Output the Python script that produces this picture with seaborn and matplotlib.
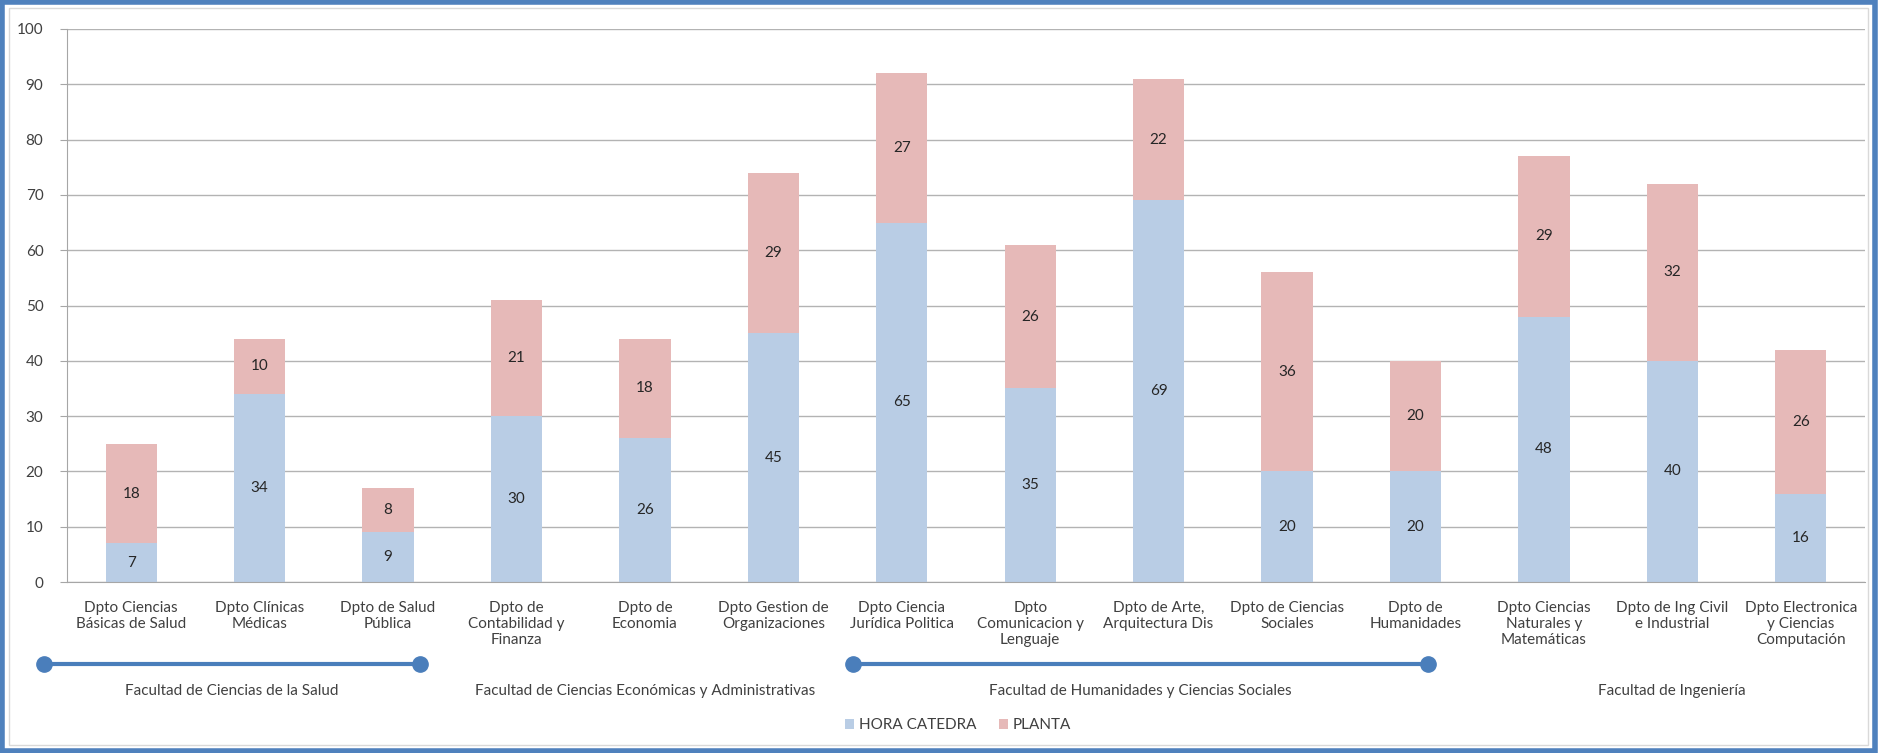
import matplotlib
matplotlib.use("Agg")
import matplotlib.pyplot as plt
from matplotlib.patches import Rectangle
import seaborn as sns
import pandas as pd

departamentos = [
    "Dpto Ciencias\nBásicas de Salud", "Dpto Clínicas\nMédicas", "Dpto de Salud\nPública",
    "Dpto de\nContabilidad y\nFinanza", "Dpto de\nEconomia", "Dpto Gestion de\nOrganizaciones",
    "Dpto Ciencia\nJurídica Politica", "Dpto\nComunicacion y\nLenguaje", "Dpto de Arte,\nArquitectura Dis",
    "Dpto de Ciencias\nSociales", "Dpto de\nHumanidades", "Dpto Ciencias\nNaturales y\nMatemáticas",
    "Dpto de Ing Civil\ne Industrial", "Dpto Electronica\ny Ciencias\nComputación",
]
hora_catedra = [7, 34, 9, 30, 26, 45, 65, 35, 69, 20, 20, 48, 40, 16]
planta = [18, 10, 8, 21, 18, 29, 27, 26, 22, 36, 20, 29, 32, 26]

facultades = [
    "Facultad de Ciencias de la Salud",
    "Facultad de Ciencias Económicas y Administrativas",
    "Facultad de Humanidades y Ciencias Sociales",
    "Facultad de Ingeniería",
]
fac_first = [0, 3, 6, 11]
fac_last = [2, 5, 10, 13]
# bracket lines drawn under two of the faculties (start, end in category units)
fac_line = [(-0.68, 2.25), None, (5.62, 10.1), None]

AZUL = "#B9CDE5"
ROSA = "#E6B9B8"
TXT = "#404040"

sns.set_style("white")
plt.rcParams["font.family"] = ["Liberation Sans Narrow", "Lato", "DejaVu Sans"]

df = pd.DataFrame({"dpto": departamentos, "hora": hora_catedra, "planta": planta})
df["total"] = df["hora"] + df["planta"]

fig = plt.figure(figsize=(18.79, 7.53), dpi=100)
ax = fig.add_axes([0.0357, 0.227, 0.9568, 0.7345])

sns.barplot(data=df, x="dpto", y="total", color=ROSA, saturation=1, width=0.4, ax=ax,
            label="PLANTA", linewidth=0)
sns.barplot(data=df, x="dpto", y="hora", color=AZUL, saturation=1, width=0.4, ax=ax,
            label="HORA CATEDRA", linewidth=0)
if ax.get_legend() is not None:
    ax.get_legend().remove()

for i, (h, p) in enumerate(zip(hora_catedra, planta)):
    ax.text(i, h / 2, str(h), ha="center", va="center", fontsize=11, color="#262626")
    ax.text(i, h + p / 2, str(p), ha="center", va="center", fontsize=11, color="#262626")

ax.set_ylim(0, 100)
ax.set_xlim(-0.5, len(departamentos) - 0.5)
ax.set_yticks(range(0, 101, 10))
ax.yaxis.grid(True, color="#B3B3B3", linewidth=1)
ax.set_axisbelow(True)
for s in ["top", "right"]:
    ax.spines[s].set_visible(False)
ax.spines["left"].set_color("#A6A6A6")
ax.spines["bottom"].set_color("#A6A6A6")
ax.tick_params(axis="y", left=True, length=5, color="#A6A6A6", labelsize=11, labelcolor=TXT, pad=12)
ax.tick_params(axis="x", bottom=False, labelsize=11, labelcolor=TXT, pad=10)
ax.set_xlabel("")
ax.set_ylabel("")

tr = ax.get_xaxis_transform()
for name, a, b, span in zip(facultades, fac_first, fac_last, fac_line):
    if span is not None:
        ax.plot(list(span), [-0.148, -0.148], transform=tr, color="#4A7EBB", lw=3,
                marker="o", markersize=11, clip_on=False, solid_capstyle="butt")
        xc = sum(span) / 2
    else:
        xc = (a + b) / 2
    ax.text(xc, -0.197, name, transform=tr, ha="center", va="center", fontsize=11, color=TXT)

h, l = ax.get_legend_handles_labels()
fig.legend(h[::-1], l[::-1], loc="center", bbox_to_anchor=(0.51, 0.037), ncol=2, frameon=False,
           fontsize=11, handlelength=0.6, handleheight=0.6, columnspacing=1.5, handletextpad=0.3,
           labelcolor=TXT)

fig.add_artist(Rectangle((0.001, 0.002), 0.997, 0.995, transform=fig.transFigure, fill=False,
                         edgecolor="#4F81BD", lw=4))
fig.add_artist(Rectangle((0.005, 0.011), 0.989, 0.979, transform=fig.transFigure, fill=False,
                         edgecolor="#D9D9D9", lw=1))

fig.savefig("out.png", dpi=100)
